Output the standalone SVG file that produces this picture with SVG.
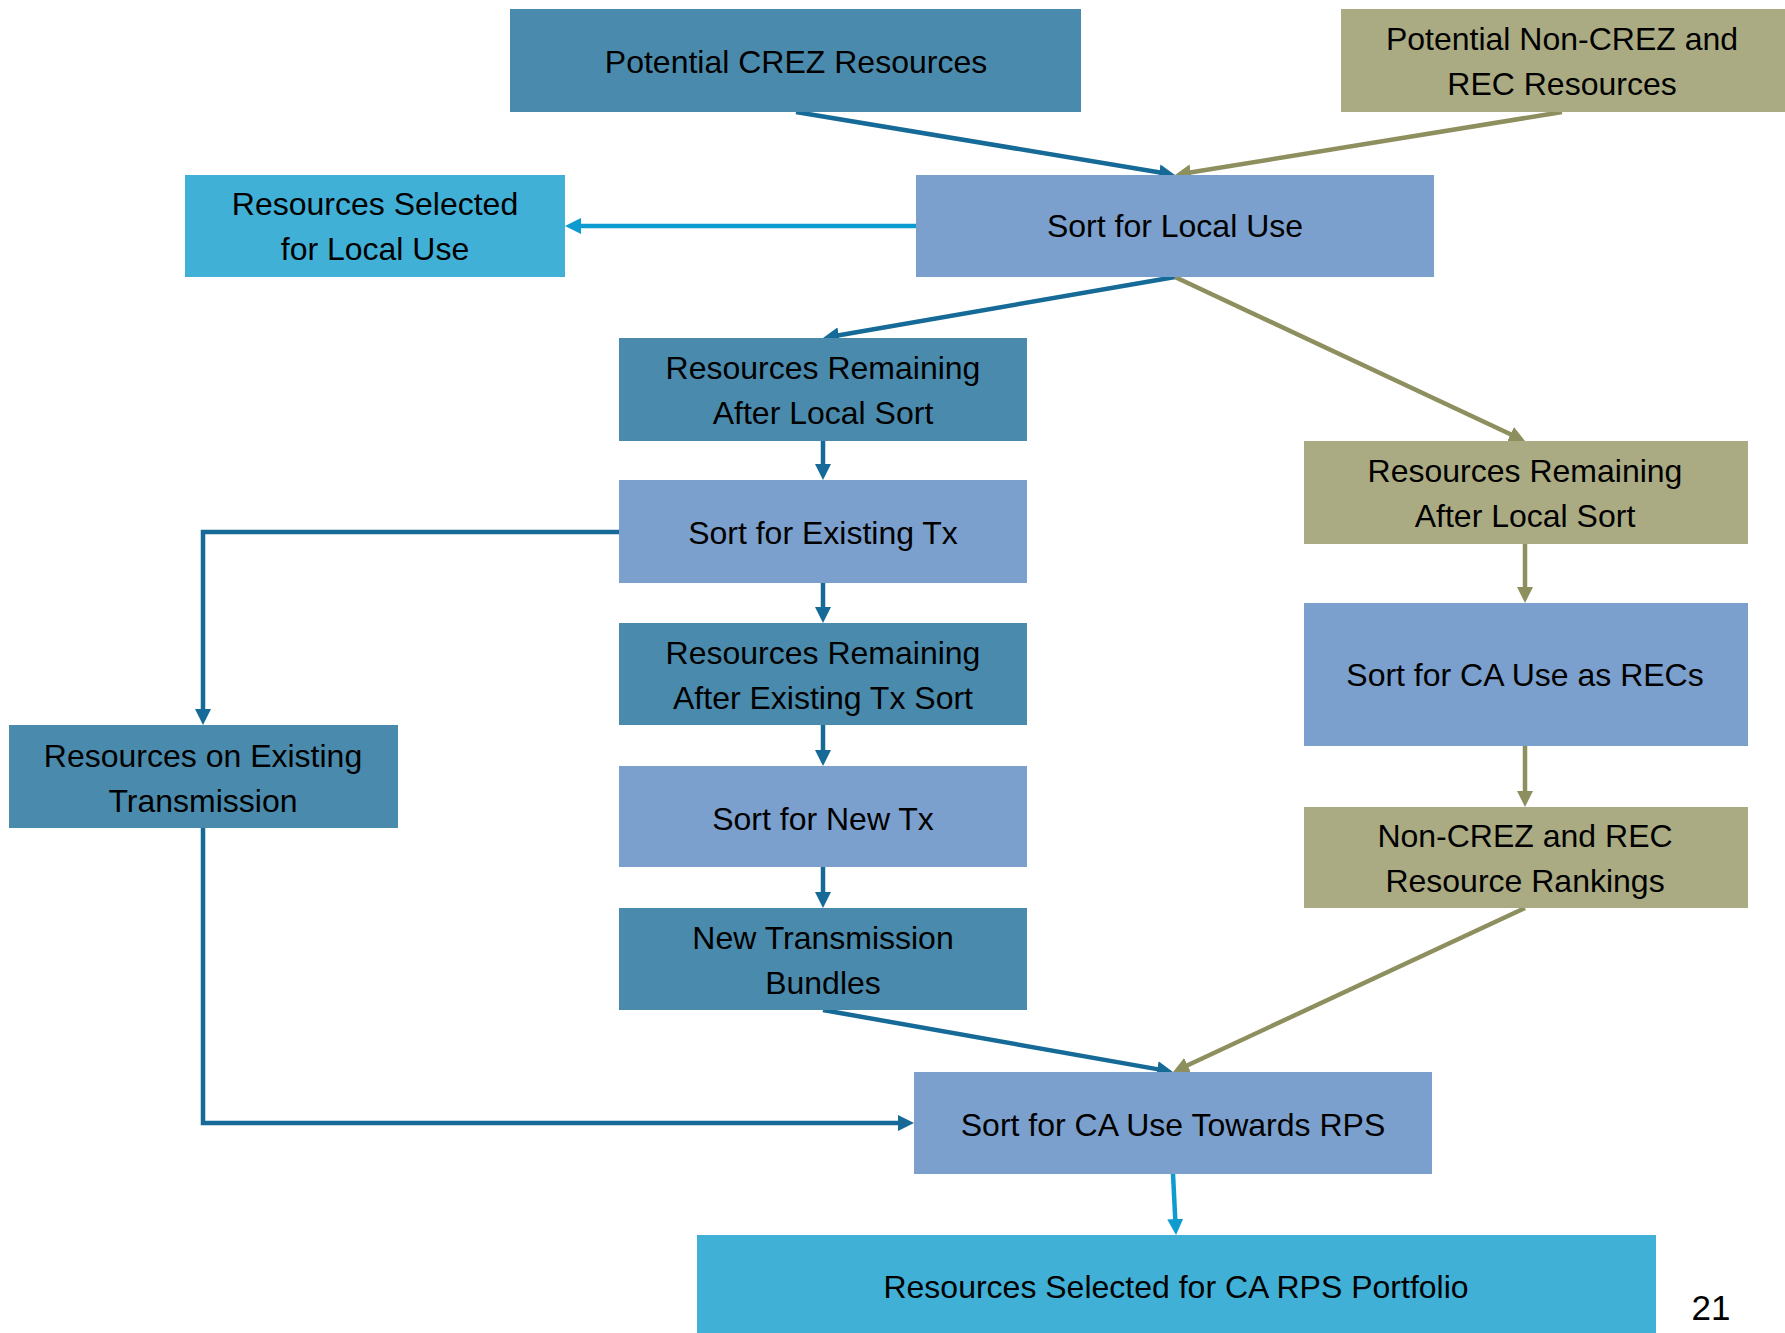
<svg xmlns="http://www.w3.org/2000/svg" width="1785" height="1333" viewBox="0 0 1785 1333">
<style>
  .t{font-family:"Liberation Sans",Arial,sans-serif;font-size:32px;fill:#000;text-anchor:middle}
  .dk{fill:#4A8BAD}
  .lt{fill:#7BA0CD}
  .ol{fill:#ABAB83}
  .cy{fill:#41B0D7}
  .cb{stroke:#156A97;stroke-width:4.5;fill:none}
  .co{stroke:#8E8F5E;stroke-width:4.5;fill:none}
  .cc{stroke:#0E9BCF;stroke-width:4.5;fill:none}
</style>
<defs>
  <marker id="ab" markerUnits="userSpaceOnUse" markerWidth="16" markerHeight="16" refX="7" refY="8" orient="auto"><path d="M0,0 L16,8 L0,16 z" fill="#156A97"/></marker>
  <marker id="ao" markerUnits="userSpaceOnUse" markerWidth="16" markerHeight="16" refX="7" refY="8" orient="auto"><path d="M0,0 L16,8 L0,16 z" fill="#8E8F5E"/></marker>
  <marker id="ac" markerUnits="userSpaceOnUse" markerWidth="16" markerHeight="16" refX="7" refY="8" orient="auto"><path d="M0,0 L16,8 L0,16 z" fill="#0E9BCF"/></marker>
</defs>
<rect width="1785" height="1333" fill="#fff"/>

<g id="connectors">
  <line class="cb" x1="796" y1="112" x2="1166.1" y2="173.5" marker-end="url(#ab)"/>
  <line class="co" x1="1562" y1="112" x2="1183.9" y2="173.5" marker-end="url(#ao)"/>
  <line class="cc" x1="916" y1="226" x2="574" y2="226" marker-end="url(#ac)"/>
  <line class="cb" x1="1175" y1="277" x2="831.9" y2="336.5" marker-end="url(#ab)"/>
  <line class="co" x1="1175" y1="277" x2="1516.9" y2="437.2" marker-end="url(#ao)"/>
  <line class="cb" x1="823" y1="441" x2="823" y2="471" marker-end="url(#ab)"/>
  <line class="cb" x1="823" y1="583" x2="823" y2="614" marker-end="url(#ab)"/>
  <line class="cb" x1="823" y1="725" x2="823" y2="757" marker-end="url(#ab)"/>
  <line class="cb" x1="823" y1="867" x2="823" y2="899" marker-end="url(#ab)"/>
  <path class="cb" d="M619,532 H203 V716" marker-end="url(#ab)"/>
  <path class="cb" d="M203,828 V1123 H905" marker-end="url(#ab)"/>
  <line class="co" x1="1525" y1="544" x2="1525" y2="594" marker-end="url(#ao)"/>
  <line class="co" x1="1525" y1="746" x2="1525" y2="798" marker-end="url(#ao)"/>
  <line class="cb" x1="823" y1="1010" x2="1164.1" y2="1070.4" marker-end="url(#ab)"/>
  <line class="co" x1="1525" y1="908" x2="1181.2" y2="1068.2" marker-end="url(#ao)"/>
  <line class="cc" x1="1173" y1="1174" x2="1175.6" y2="1226" marker-end="url(#ac)"/>
</g>

<g id="potential-crez">
  <rect class="dk" x="510" y="9" width="571" height="103"/>
  <text class="t" x="796" y="73">Potential CREZ Resources</text>
</g>
<g id="potential-noncrez">
  <rect class="ol" x="1341" y="9" width="444" height="103"/>
  <text class="t" x="1562" y="50">Potential Non-CREZ and</text>
  <text class="t" x="1562" y="95">REC Resources</text>
</g>
<g id="selected-local">
  <rect class="cy" x="185" y="175" width="380" height="102"/>
  <text class="t" x="375" y="215">Resources Selected</text>
  <text class="t" x="375" y="260">for Local Use</text>
</g>
<g id="sort-local">
  <rect class="lt" x="916" y="175" width="518" height="102"/>
  <text class="t" x="1175" y="237">Sort for Local Use</text>
</g>
<g id="remaining-local-left">
  <rect class="dk" x="619" y="338" width="408" height="103"/>
  <text class="t" x="823" y="379">Resources Remaining</text>
  <text class="t" x="823" y="424">After Local Sort</text>
</g>
<g id="sort-existing-tx">
  <rect class="lt" x="619" y="480" width="408" height="103"/>
  <text class="t" x="823" y="544">Sort for Existing Tx</text>
</g>
<g id="remaining-existing-tx">
  <rect class="dk" x="619" y="623" width="408" height="102"/>
  <text class="t" x="823" y="664">Resources Remaining</text>
  <text class="t" x="823" y="709">After Existing Tx Sort</text>
</g>
<g id="sort-new-tx">
  <rect class="lt" x="619" y="766" width="408" height="101"/>
  <text class="t" x="823" y="830">Sort for New Tx</text>
</g>
<g id="new-tx-bundles">
  <rect class="dk" x="619" y="908" width="408" height="102"/>
  <text class="t" x="823" y="949">New Transmission</text>
  <text class="t" x="823" y="994">Bundles</text>
</g>
<g id="resources-existing-tx">
  <rect class="dk" x="9" y="725" width="389" height="103"/>
  <text class="t" x="203" y="767">Resources on Existing</text>
  <text class="t" x="203" y="812">Transmission</text>
</g>
<g id="remaining-local-right">
  <rect class="ol" x="1304" y="441" width="444" height="103"/>
  <text class="t" x="1525" y="482">Resources Remaining</text>
  <text class="t" x="1525" y="527">After Local Sort</text>
</g>
<g id="sort-ca-recs">
  <rect class="lt" x="1304" y="603" width="444" height="143"/>
  <text class="t" x="1525" y="686">Sort for CA Use as RECs</text>
</g>
<g id="rankings">
  <rect class="ol" x="1304" y="807" width="444" height="101"/>
  <text class="t" x="1525" y="847">Non-CREZ and REC</text>
  <text class="t" x="1525" y="892">Resource Rankings</text>
</g>
<g id="sort-ca-rps">
  <rect class="lt" x="914" y="1072" width="518" height="102"/>
  <text class="t" x="1173" y="1136">Sort for CA Use Towards RPS</text>
</g>
<g id="selected-ca-rps">
  <rect class="cy" x="697" y="1235" width="959" height="98"/>
  <text class="t" x="1176" y="1298">Resources Selected for CA RPS Portfolio</text>
</g>
<text x="1711" y="1320" style="font-family:'Liberation Sans',Arial,sans-serif;font-size:35px;fill:#000;text-anchor:middle">21</text>
</svg>
